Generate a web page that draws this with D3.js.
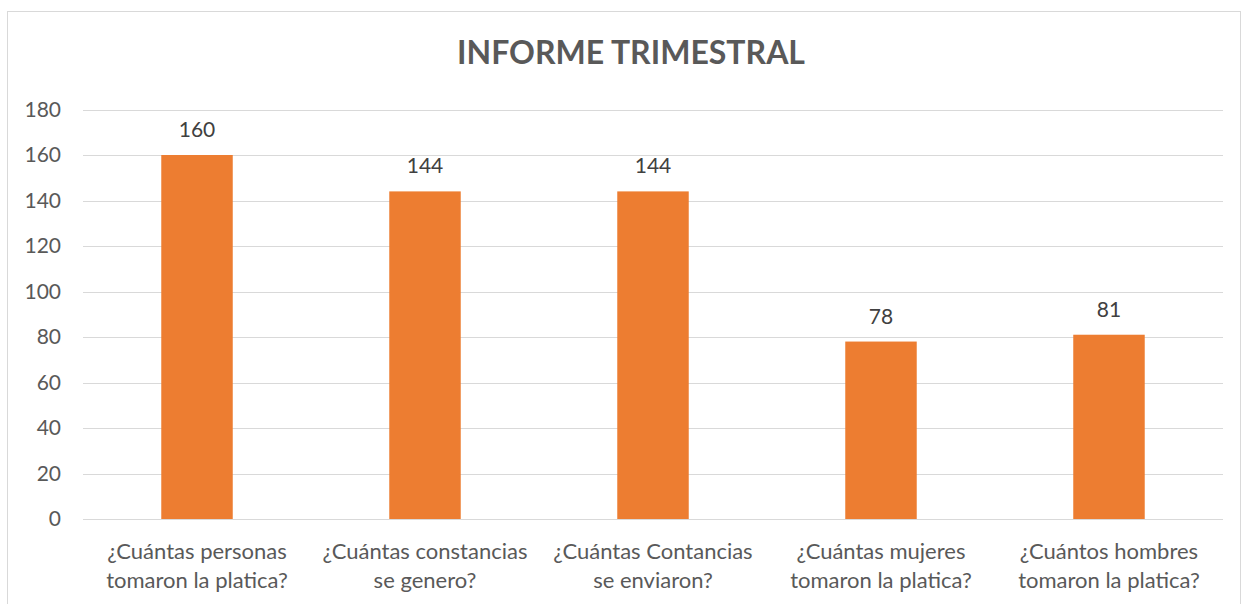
<!DOCTYPE html>
<html><head><meta charset="utf-8">
<script src="https://cdn.jsdelivr.net/npm/d3@7"></script>
<style>
html,body{margin:0;padding:0;background:#fff;}
svg{display:block;font-family:Lato,"Open Sans",sans-serif;}
</style></head>
<body><svg id="c" width="1250" height="604"></svg>
<script>
const categories = [
  ["¿Cuántas personas","tomaron la platica?"],
  ["¿Cuántas constancias","se genero?"],
  ["¿Cuántas Contancias","se enviaron?"],
  ["¿Cuántas mujeres","tomaron la platica?"],
  ["¿Cuántos hombres","tomaron la platica?"]
];
const values = [160, 144, 144, 78, 81];
const yTicks = [0,20,40,60,80,100,120,140,160,180];
const title = "INFORME TRIMESTRAL";

(function(){
const svg = d3.select("#c");
const W = 1250, H = 604;
const pLeft = 83, pRight = 1223, pTop = 109.5, pBottom = 519;

svg.append("rect").attr("x",7.5).attr("y",11.5).attr("width",1233).attr("height",H)
  .attr("fill","#fff").attr("stroke","#d9d9d9").attr("stroke-width",1);

const x = d3.scaleBand().domain(d3.range(categories.length)).range([pLeft,pRight]).paddingInner(0.6865).paddingOuter(0.3433);
const y = d3.scaleLinear().domain([0,180]).range([pBottom,pTop]);

const grid = svg.append("g");
grid.selectAll("line").data(yTicks).join("line")
  .attr("x1",pLeft).attr("x2",pRight)
  .attr("y1",d=>Math.round(y(d))+0.5).attr("y2",d=>Math.round(y(d))+0.5)
  .attr("stroke","#d9d9d9").attr("stroke-width",1);

const yAxis = svg.append("g").attr("transform",`translate(${pLeft},0)`)
  .call(d3.axisLeft(y).tickValues(yTicks).tickSize(0).tickPadding(22));
yAxis.select(".domain").remove();
yAxis.selectAll("text").attr("fill","#595959").style("font-size","21px").style("font-family","Lato,sans-serif");

svg.append("g").selectAll("rect").data(values).join("rect")
  .attr("x",(d,i)=>x(i)).attr("width",x.bandwidth())
  .attr("y",d=>y(d)).attr("height",d=>y(0)-y(d))
  .attr("fill","#ed7d31");

svg.append("g").selectAll("text").data(values).join("text")
  .attr("x",(d,i)=>x(i)+x.bandwidth()/2).attr("y",d=>y(d)-18)
  .attr("text-anchor","middle").attr("fill","#404040")
  .style("font-size","21px").text(d=>d);

const xl = svg.append("g").selectAll("text").data(categories).join("text")
  .attr("text-anchor","middle").attr("fill","#595959").style("font-size","22px")
  .attr("x",(d,i)=>x(i)+x.bandwidth()/2);
xl.each(function(d){
  const t = d3.select(this);
  d.forEach((line,k)=>{
    t.append("tspan").attr("x",t.attr("x")).attr("y",559+k*29).text(line);
  });
});

svg.append("text").attr("x",631).attr("y",64).attr("text-anchor","middle")
  .attr("fill","#595959").style("font-size","32px").style("font-weight","bold").text(title);
})();
</script></body></html>
